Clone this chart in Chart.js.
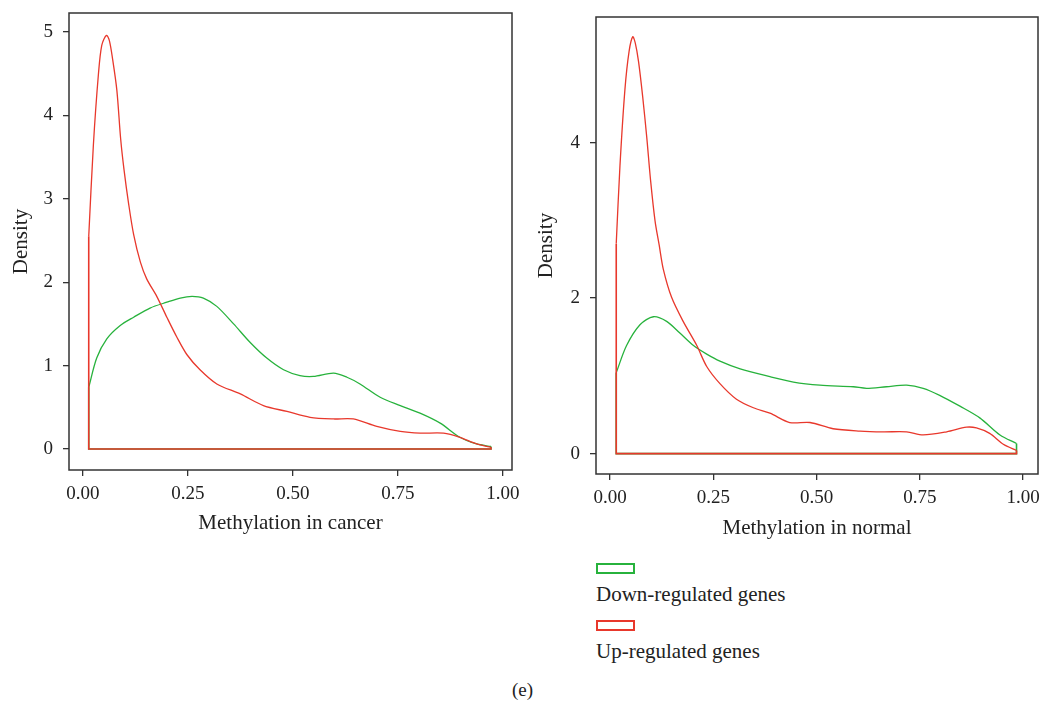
<!DOCTYPE html>
<html>
<head>
<meta charset="utf-8">
<script src="https://cdn.jsdelivr.net/npm/chart.js@4.4.1/dist/chart.umd.min.js"></script>
<style>
  body { margin: 0; background: #fff; width: 1045px; height: 701px; position: relative; overflow: hidden;
         font-family: "Liberation Serif", serif; color: #222; }
  canvas { position: absolute; top: 0; }
  #legend { position: absolute; left: 596px; top: 0; }
  .key { position: absolute; left: 0; width: 35px; height: 7px; border: 2px solid; }
  .keyLabel { position: absolute; left: 0; white-space: nowrap; font-size: 21px; line-height: 24px; }
  #caption { position: absolute; left: 0; width: 1045px; top: 678px; text-align: center; font-size: 19px; line-height: 24px; }
</style>
</head>
<body>
<canvas id="cancerChart" width="520" height="560" style="left:0"></canvas>
<canvas id="normalChart" width="525" height="560" style="left:520px"></canvas>
<div id="legend"></div>
<div id="caption">(e)</div>
<script>
var xTicks = [0, 0.25, 0.5, 0.75, 1];
var cancerYTicks = [0, 1, 2, 3, 4, 5];
var normalYTicks = [0, 2, 4];
var seriesNames = ['Down-regulated genes', 'Up-regulated genes'];
var downColor = '#27b23c';
var upColor = '#e8382c';

// density estimates, methylation in cancer
var cancerDownX = [0.014, 0.033, 0.057, 0.089, 0.121, 0.160, 0.200, 0.232, 0.260, 0.287, 0.319, 0.359, 0.398, 0.438, 0.478, 0.517, 0.549, 0.597, 0.629, 0.660, 0.708, 0.756, 0.803, 0.851, 0.898, 0.938, 0.972];
var cancerDownY = [0.74, 1.09, 1.32, 1.48, 1.58, 1.69, 1.76, 1.81, 1.83, 1.81, 1.71, 1.50, 1.28, 1.09, 0.95, 0.88, 0.87, 0.91, 0.86, 0.78, 0.62, 0.52, 0.43, 0.31, 0.14, 0.06, 0.03];
var cancerUpX = [0.014, 0.025, 0.037, 0.045, 0.056, 0.063, 0.071, 0.081, 0.090, 0.098, 0.109, 0.121, 0.137, 0.152, 0.176, 0.200, 0.224, 0.248, 0.279, 0.319, 0.375, 0.430, 0.486, 0.541, 0.597, 0.644, 0.700, 0.756, 0.803, 0.859, 0.898, 0.938, 0.972];
var cancerUpY = [2.55, 3.64, 4.49, 4.84, 4.96, 4.90, 4.67, 4.30, 3.72, 3.35, 2.94, 2.57, 2.24, 2.04, 1.83, 1.58, 1.34, 1.13, 0.95, 0.78, 0.66, 0.52, 0.45, 0.38, 0.36, 0.36, 0.27, 0.21, 0.19, 0.19, 0.14, 0.06, 0.02];

// density estimates, methylation in normal
var normalDownX = [0.015, 0.040, 0.073, 0.105, 0.137, 0.169, 0.202, 0.234, 0.266, 0.315, 0.387, 0.444, 0.508, 0.589, 0.621, 0.669, 0.718, 0.758, 0.798, 0.847, 0.895, 0.944, 0.984];
var normalDownY = [1.04, 1.39, 1.66, 1.76, 1.70, 1.55, 1.39, 1.28, 1.19, 1.09, 0.99, 0.92, 0.88, 0.86, 0.84, 0.86, 0.88, 0.84, 0.75, 0.61, 0.46, 0.24, 0.13];
var normalUpX = [0.015, 0.024, 0.036, 0.046, 0.055, 0.061, 0.069, 0.079, 0.089, 0.098, 0.109, 0.119, 0.129, 0.149, 0.177, 0.210, 0.234, 0.266, 0.306, 0.347, 0.387, 0.435, 0.484, 0.540, 0.605, 0.661, 0.718, 0.758, 0.815, 0.863, 0.887, 0.919, 0.952, 0.984];
var normalUpY = [2.70, 3.70, 4.68, 5.17, 5.36, 5.28, 5.04, 4.59, 4.06, 3.52, 2.99, 2.68, 2.37, 2.01, 1.70, 1.39, 1.12, 0.90, 0.70, 0.59, 0.52, 0.40, 0.40, 0.32, 0.29, 0.28, 0.28, 0.24, 0.28, 0.34, 0.33, 0.26, 0.12, 0.04];

var axisColor = '#333';
var tickFont = { family: 'Liberation Serif', size: 19 };
var titleFont = { family: 'Liberation Serif', size: 21 };

// curve plus the closing outline down to zero and back
function densityDatasets(xs, ys, color) {
  var n = xs.length - 1;
  return [{
    data: xs.map(function(x, i) { return { x: x, y: ys[i] }; }),
    borderColor: color, borderWidth: 1.3, pointRadius: 0, tension: 0.3, fill: false
  }, {
    data: [{ x: xs[n], y: ys[n] }, { x: xs[n], y: 0 }, { x: xs[0], y: 0 }, { x: xs[0], y: ys[0] }],
    borderColor: color, borderWidth: 1.6, pointRadius: 0, tension: 0, fill: false
  }];
}

var frame = {
  id: 'frame',
  afterDraw: function(chart) {
    var a = chart.chartArea, ctx = chart.ctx;
    ctx.save();
    ctx.strokeStyle = axisColor;
    ctx.lineWidth = 1.5;
    ctx.strokeRect(a.left, a.top, a.right - a.left, a.bottom - a.top);
    ctx.restore();
  }
};

function makeChart(id, cfg) {
  var datasets = densityDatasets(cfg.upX, cfg.upY, upColor)
    .concat(densityDatasets(cfg.downX, cfg.downY, downColor));
  return new Chart(document.getElementById(id), {
    type: 'line',
    data: { datasets: datasets },
    options: {
      responsive: false,
      animation: false,
      layout: { padding: cfg.padding },
      plugins: { legend: { display: false }, tooltip: { enabled: false } },
      scales: {
        x: {
          type: 'linear', min: cfg.xRange[0], max: cfg.xRange[1],
          afterBuildTicks: function(axis) { axis.ticks = xTicks.map(function(v) { return { value: v }; }); },
          afterFit: function(axis) {
            axis.height = cfg.xHeight;
            axis.paddingLeft = 0;
            axis.paddingRight = 0;
          },
          ticks: { font: tickFont, color: '#222', padding: 7, maxRotation: 0,
                   callback: function(v) { return v.toFixed(2); } },
          grid: { drawOnChartArea: false, tickLength: 6, color: axisColor, lineWidth: 1.3 },
          border: { display: false },
          title: { display: true, text: cfg.xTitle, font: titleFont, color: '#222',
                   padding: { top: 0, bottom: cfg.xTitlePad } }
        },
        y: {
          type: 'linear', min: cfg.yRange[0], max: cfg.yRange[1],
          afterBuildTicks: function(axis) { axis.ticks = cfg.yTicks.map(function(v) { return { value: v }; }); },
          afterFit: function(axis) {
            axis.width = cfg.yWidth;
            axis.paddingTop = 0;
            axis.paddingBottom = 0;
          },
          ticks: { font: tickFont, color: '#222', padding: 10 },
          grid: { drawOnChartArea: false, tickLength: 6, color: axisColor, lineWidth: 1.3 },
          border: { display: false },
          title: { display: true, text: 'Density', font: titleFont, color: '#222',
                   padding: { top: cfg.yTitlePad, bottom: 0 } }
        }
      }
    },
    plugins: [frame]
  });
}

makeChart('cancerChart', {
  downX: cancerDownX, downY: cancerDownY, upX: cancerUpX, upY: cancerUpY,
  xRange: [-0.033, 1.022], yRange: [-0.252, 5.228], yTicks: cancerYTicks,
  xTitle: 'Methylation in cancer',
  padding: { top: 13, right: 8, left: 0, bottom: 0 },
  xHeight: 90, yWidth: 69, xTitlePad: 24, yTitlePad: 9
});

makeChart('normalChart', {
  downX: normalDownX, downY: normalDownY, upX: normalUpX, upY: normalUpY,
  xRange: [-0.034, 1.036], yRange: [-0.262, 5.614], yTicks: normalYTicks,
  xTitle: 'Methylation in normal',
  padding: { top: 17, right: 7, left: 0, bottom: 0 },
  xHeight: 86, yWidth: 76, xTitlePad: 19, yTitlePad: 14
});

// legend: outlined key box above each label
var legend = document.getElementById('legend');
var keyTops = [563, 620];
[downColor, upColor].forEach(function(color, i) {
  var key = document.createElement('div');
  key.className = 'key';
  key.style.top = keyTops[i] + 'px';
  key.style.borderColor = color;
  legend.appendChild(key);
  var label = document.createElement('div');
  label.className = 'keyLabel';
  label.style.top = (keyTops[i] + 19) + 'px';
  label.textContent = seriesNames[i];
  legend.appendChild(label);
});
</script>
</body>
</html>
